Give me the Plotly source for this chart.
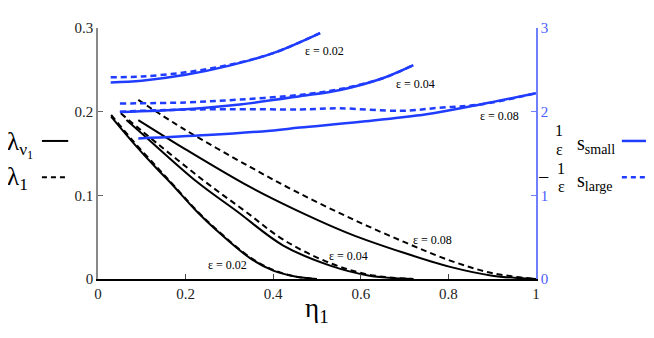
import plotly.graph_objects as go

# ---- data ----
# black curves, left axis (lambda)
lam_x_02 = [0.03, 0.08, 0.134, 0.164, 0.225, 0.271, 0.347, 0.40, 0.45, 0.50]
lam_solid_02 = [0.194, 0.163, 0.132, 0.116, 0.081, 0.058, 0.025, 0.010, 0.003, 0.0]
lam_dash_02 = [0.196, 0.165, 0.134, 0.117, 0.082, 0.059, 0.026, 0.011, 0.003, 0.0]

lam_x_04s = [0.065, 0.1, 0.225, 0.317, 0.423, 0.53, 0.62, 0.72]
lam_solid_04 = [0.19, 0.174, 0.1165, 0.081, 0.040, 0.016, 0.004, 0.0]
lam_x_04d = [0.052, 0.1, 0.244, 0.336, 0.423, 0.53, 0.62, 0.72]
lam_dash_04 = [0.198, 0.177, 0.1165, 0.081, 0.047, 0.019, 0.005, 0.0]

lam_x_08 = [0.092, 0.2, 0.347, 0.45, 0.575, 0.7, 0.804, 0.9, 1.0]
lam_solid_08 = [0.19, 0.155, 0.11, 0.083, 0.054, 0.031, 0.0145, 0.004, 0.0]
lam_dash_08 = [0.214, 0.178, 0.134, 0.105, 0.073, 0.044, 0.022, 0.007, 0.0]

# blue curves, right axis (s / eps)
s_x_02 = [0.029, 0.1, 0.2, 0.3, 0.4, 0.507]
s_small_02 = [2.35, 2.37, 2.44, 2.55, 2.70, 2.94]
s_large_02 = [2.41, 2.42, 2.47, 2.56, 2.70, 2.94]

s_x_04 = [0.05, 0.2, 0.324, 0.461, 0.553, 0.65, 0.72]
s_small_04 = [1.996, 2.03, 2.086, 2.185, 2.26, 2.40, 2.556]
s_large_04 = [2.098, 2.11, 2.145, 2.20, 2.27, 2.40, 2.556]

s_x_08s = [0.092, 0.25, 0.393, 0.461, 0.6, 0.75, 0.872, 1.0]
s_small_08 = [1.68, 1.72, 1.773, 1.81, 1.88, 1.97, 2.086, 2.22]
s_x_08d = [0.05, 0.158, 0.3, 0.461, 0.55, 0.69, 0.78, 0.872, 1.0]
s_large_08 = [2.0, 2.02, 2.03, 2.027, 2.04, 2.01, 2.047, 2.086, 2.22]

eps_text = ["ε = 0.02", "ε = 0.04", "ε = 0.08"]
lam_label_x = [0.295, 0.573, 0.763]
lam_label_y = [0.0165, 0.027, 0.047]
s_label_x = [0.518, 0.726, 0.916]
s_label_y = [2.73, 2.33, 1.95]

x_ticks = [0, 0.2, 0.4, 0.6, 0.8, 1]
x_ticktext = ["0", "0.2", "0.4", "0.6", "0.8", "1"]
y_ticks = [0, 0.1, 0.2, 0.3]
y_ticktext = ["0", "0.1", "0.2", "0.3"]
y2_ticks = [0, 1, 2, 3]

BLACK = "#000000"
BLUE = "#1f3cff"
AXBLUE = "#6f80ff"
SERIF = "Liberation Serif, Times New Roman, DejaVu Serif, serif"
DASH = "6px,4px"

fig = go.Figure()

black_curves = [
    (lam_x_02, lam_solid_02, "solid"), (lam_x_02, lam_dash_02, DASH),
    (lam_x_04s, lam_solid_04, "solid"), (lam_x_04d, lam_dash_04, DASH),
    (lam_x_08, lam_solid_08, "solid"), (lam_x_08, lam_dash_08, DASH),
]
for xs, ys, d in black_curves:
    fig.add_trace(go.Scatter(x=xs, y=ys, mode="lines", line_shape="spline",
                             line=dict(color=BLACK, width=2, dash=d)))

blue_curves = [
    (s_x_02, s_large_02, DASH), (s_x_02, s_small_02, "solid"),
    (s_x_04, s_large_04, DASH), (s_x_04, s_small_04, "solid"),
    (s_x_08d, s_large_08, DASH), (s_x_08s, s_small_08, "solid"),
]
for xs, ys, d in blue_curves:
    fig.add_trace(go.Scatter(x=xs, y=ys, mode="lines", line_shape="spline",
                             line=dict(color=BLUE, width=2.5, dash=d), yaxis="y2"))

# epsilon labels
for t, lx, ly in zip(eps_text, lam_label_x, lam_label_y):
    fig.add_annotation(x=lx, y=ly, xref="x", yref="y", text=t, showarrow=False,
                       font=dict(family=SERIF, size=12, color=BLACK))
for t, lx, ly in zip(eps_text, s_label_x, s_label_y):
    fig.add_annotation(x=lx, y=ly, xref="x", yref="y2", text=t, showarrow=False,
                       font=dict(family=SERIF, size=12, color=BLACK))

# x axis title
fig.add_annotation(x=0.5, y=-0.2, xref="paper", yref="paper", text="η<sub>1</sub>",
                   showarrow=False, font=dict(family=SERIF, size=27, color=BLACK))

# left legend
fig.add_annotation(x=-0.212, y=0.535, xref="paper", yref="paper", xanchor="left",
                   text="λ<sub>ν<sub>1</sub></sub>", showarrow=False,
                   font=dict(family=SERIF, size=25, color=BLACK))
fig.add_annotation(x=-0.212, y=0.40, xref="paper", yref="paper", xanchor="left",
                   text="λ<sub>1</sub>", showarrow=False,
                   font=dict(family=SERIF, size=25, color=BLACK))
fig.add_shape(type="line", xref="paper", yref="paper", x0=-0.128, x1=-0.068, y0=0.55, y1=0.55,
              line=dict(color=BLACK, width=2))
fig.add_shape(type="line", xref="paper", yref="paper", x0=-0.128, x1=-0.068, y0=0.405, y1=0.405,
              line=dict(color=BLACK, width=2, dash="5px,4px"))

# right legend: 1/eps fractions written as stacked numerator and denominator
frac_x = [1.066, 1.066, 1.071, 1.071]
frac_y = [0.592, 0.514, 0.439, 0.369]
frac_t = ["1", "ε", "1", "ε"]
for fx, fy, ft in zip(frac_x, frac_y, frac_t):
    fig.add_annotation(x=fx, y=fy, xref="paper", yref="paper", text=ft, showarrow=False,
                       font=dict(family=SERIF, size=16, color=BLACK))
fig.add_annotation(x=1.09, y=0.535, xref="paper", yref="paper", xanchor="left",
                   text="s<sub>small</sub>", showarrow=False,
                   font=dict(family=SERIF, size=20, color=BLACK))
fig.add_annotation(x=1.034, y=0.405, xref="paper", yref="paper", text="−",
                   showarrow=False, font=dict(family=SERIF, size=20, color=BLACK))
fig.add_annotation(x=1.09, y=0.39, xref="paper", yref="paper", xanchor="left",
                   text="s<sub>large</sub>", showarrow=False,
                   font=dict(family=SERIF, size=20, color=BLACK))
fig.add_shape(type="line", xref="paper", yref="paper", x0=1.196, x1=1.256, y0=0.55, y1=0.55,
              line=dict(color=BLUE, width=2.5))
fig.add_shape(type="line", xref="paper", yref="paper", x0=1.196, x1=1.256, y0=0.405, y1=0.405,
              line=dict(color=BLUE, width=2.5, dash="5px,4px"))

tickfont = dict(family=SERIF, size=15, color="#222222")
fig.update_layout(
    width=654, height=338,
    # page body adds an 8px offset, so margins are trimmed to keep the plot box in place
    margin=dict(l=90, r=126, t=14, b=67),
    paper_bgcolor="white", plot_bgcolor="white",
    showlegend=False,
    font=dict(family=SERIF),
    xaxis=dict(range=[0, 1], tickvals=x_ticks, ticktext=x_ticktext, showgrid=False,
               zeroline=False, showline=True, linecolor=BLACK, linewidth=2,
               ticks="inside", ticklen=5, tickcolor="#444", tickfont=tickfont),
    yaxis=dict(range=[0, 0.3], tickvals=y_ticks, ticktext=y_ticktext, showgrid=False,
               zeroline=False, showline=True, linecolor="#888888", linewidth=1.5,
               ticks="inside", ticklen=5, tickcolor="#666", tickfont=tickfont),
    yaxis2=dict(range=[0, 3], tickvals=y2_ticks, overlaying="y", side="right",
                showgrid=False, zeroline=False, showline=True, linecolor=AXBLUE,
                linewidth=1.5, ticks="inside", ticklen=5, tickcolor=AXBLUE,
                tickfont=dict(family=SERIF, size=15, color="#4a5cff")),
)

fig.write_html("out.html")
